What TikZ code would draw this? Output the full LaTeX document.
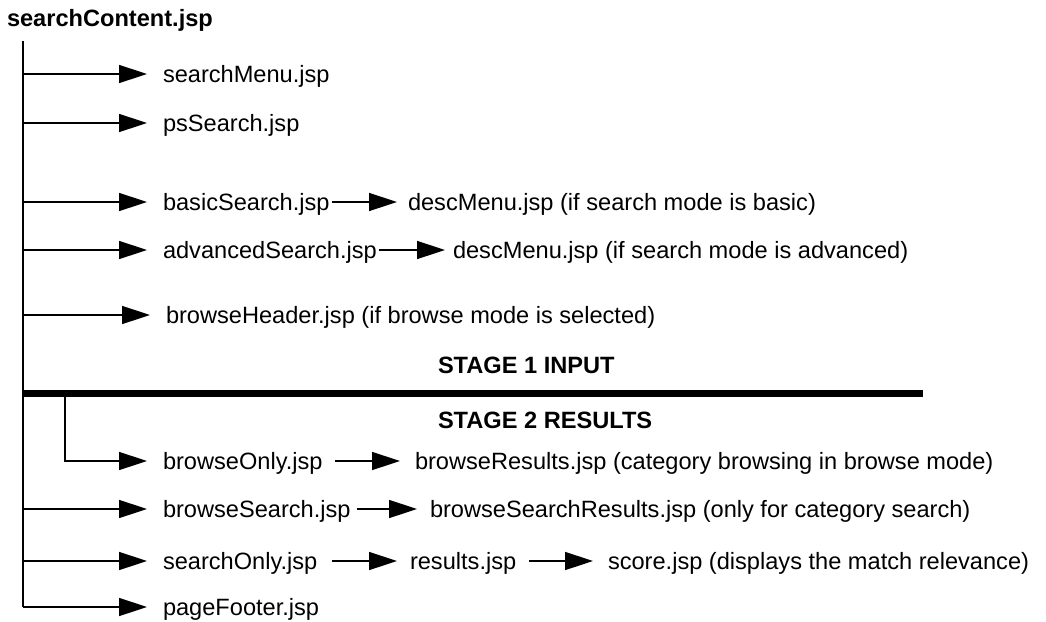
\documentclass[tikz,border=0pt]{standalone}
\usepackage{fontspec}
\setmainfont{Liberation Sans}
\usetikzlibrary{arrows.meta}
\begin{document}
\begin{tikzpicture}[x=1pt,y=-1pt,
  every node/.style={inner sep=0pt,outer sep=0pt,font=\fontsize{23.6pt}{28pt}\selectfont},
  lbl/.style={anchor=west,text height=17.5pt,text depth=0pt},
  hdr/.style={anchor=base west,font=\fontsize{23.6pt}{28pt}\selectfont\bfseries},
  ln/.style={line width=1.5pt},
  arr/.style={line width=1.5pt,-{Triangle[length=28pt,width=18pt]}}]
\useasboundingbox (0,0) rectangle (1046,621);
% title
\node[hdr] (title) at (7,27) {searchContent.jsp};
% trunk
\coordinate (top) at (23,41);
\coordinate (bot) at (23,607);
% row nodes
\node[lbl] (n1) at (163,74) {searchMenu.jsp};
\node[lbl] (n2) at (163,123) {psSearch.jsp};
\node[lbl] (n3) at (163,202) {basicSearch.jsp};
\node[lbl] (n3b) at (408,202) {descMenu.jsp (if search mode is basic)};
\node[lbl] (n4) at (163,250) {advancedSearch.jsp};
\node[lbl] (n4b) at (453,250) {descMenu.jsp (if search mode is advanced)};
\node[lbl] (n5) at (166,315) {browseHeader.jsp (if browse mode is selected)};
\node[hdr] (s1) at (438,373) {STAGE 1 INPUT};
\node[hdr] (s2) at (438,428) {STAGE 2 RESULTS};
\node[lbl] (n6) at (163,461) {browseOnly.jsp};
\node[lbl] (n6b) at (415,461) {browseResults.jsp (category browsing in browse mode)};
\node[lbl] (n7) at (163,509) {browseSearch.jsp};
\node[lbl] (n7b) at (430,509) {browseSearchResults.jsp (only for category search)};
\node[lbl] (n8) at (163,561) {searchOnly.jsp};
\node[lbl] (n8b) at (410,561) {results.jsp};
\node[lbl] (n8c) at (608,561) {score.jsp (displays the match relevance)};
\node[lbl] (n9) at (163,607) {pageFooter.jsp};
% branch points on trunk
\coordinate (t1) at (23,74);
\coordinate (t2) at (23,123);
\coordinate (t3) at (23,202);
\coordinate (t4) at (23,250);
\coordinate (t5) at (23,315);
\coordinate (t7) at (23,509);
\coordinate (t8) at (23,561);
\coordinate (sepL) at (23,393);
\coordinate (sepR) at (923,393);
\coordinate (b6) at (65,393);
\coordinate (c6) at (65,461);
% trunk and separator
\draw[ln] (top) -- (bot);
\draw[line width=7pt] (sepL) -- (sepR);
% arrows from trunk
\foreach \a/\b in {t1/n1,t2/n2,t3/n3,t4/n4,t5/n5,t7/n7,t8/n8,bot/n9}
  \draw[arr,shorten >=16pt] (\a) -- (\b.west);
\draw[arr,shorten >=16pt] (b6) -- (c6) -- (n6.west);
% second-level arrows
\draw[arr,shorten <=2pt,shorten >=11pt] (n3.east) -- (n3b.west);
\draw[arr,shorten <=2pt,shorten >=8pt] (n4.east) -- (n4b.west);
\draw[arr,shorten <=12pt,shorten >=15pt] (n6.east) -- (n6b.west);
\draw[arr,shorten <=6pt,shorten >=13pt] (n7.east) -- (n7b.west);
\draw[arr,shorten <=15pt,shorten >=13pt] (n8.east) -- (n8b.west);
\draw[arr,shorten <=13pt,shorten >=15pt] (n8b.east) -- (n8c.west);
\end{tikzpicture}
\end{document}
